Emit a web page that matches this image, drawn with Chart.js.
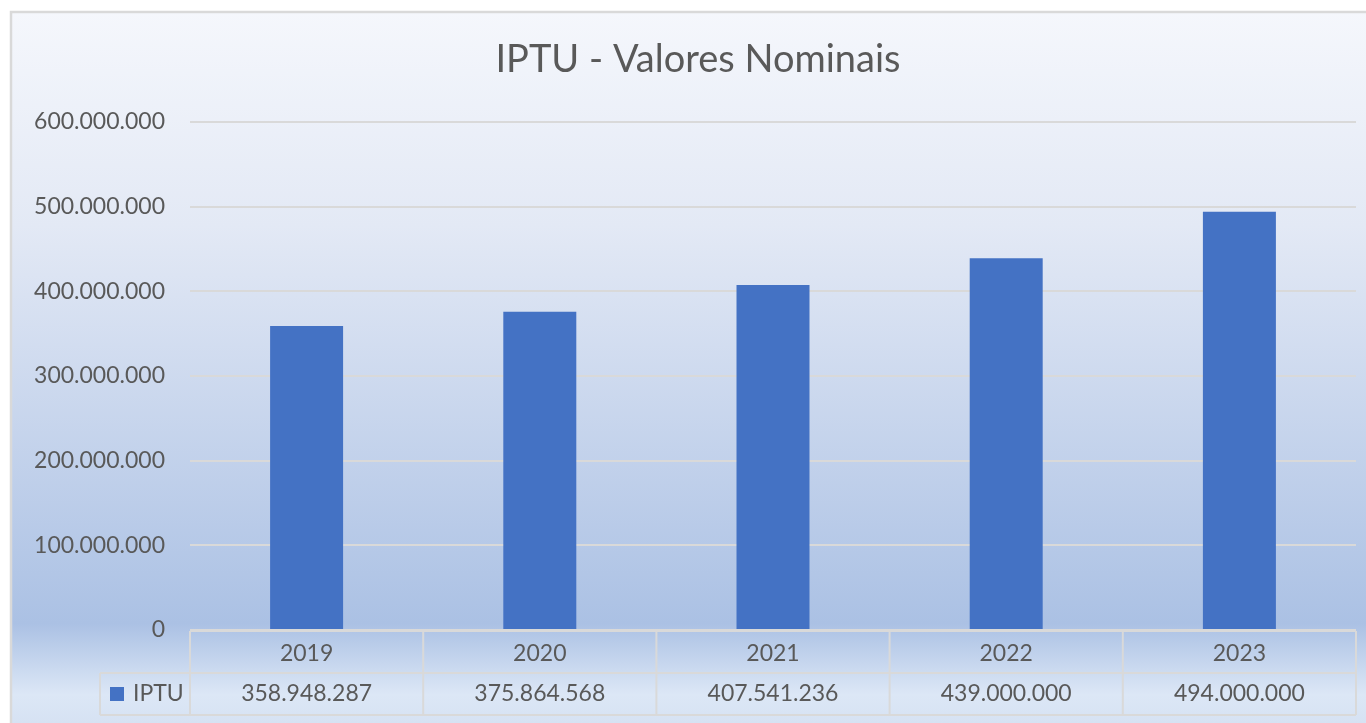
<!DOCTYPE html>
<html>
<head>
<meta charset="utf-8">
<title>IPTU - Valores Nominais</title>
<script src="https://cdn.jsdelivr.net/npm/chart.js@4"></script>
<style>
  html, body { margin: 0; padding: 0; background: #fff; overflow: hidden; }
  #wrap { width: 1366px; height: 723px; position: relative; }
</style>
</head>
<body>
<div id="wrap"><canvas id="chart"></canvas></div>
<script>
// data
const years = ['2019', '2020', '2021', '2022', '2023'];
const seriesName = 'IPTU';
const iptuValues = [358948287, 375864568, 407541236, 439000000, 494000000];
const yMax = 600000000;
const yStep = 100000000;

const textColor = '#595959';
const lineColor = '#d9d9d9';
const barColor = '#4472c4';
const fontFamily = 'Lato, "Open Sans", sans-serif';

// 358948287 -> 358.948.287
function fmt(v) {
  return String(Math.round(v)).replace(/\B(?=(\d{3})+(?!\d))/g, '.');
}

// frame + gradient fill like the Excel chart area
const backgroundPlugin = {
  id: 'bg',
  // the original chart is cropped on the right, so its title sits right of our canvas centre
  afterLayout(chart) {
    if (chart.titleBlock) {
      chart.titleBlock.left += 20;
      chart.titleBlock.right += 20;
    }
  },
  beforeDraw(chart) {
    const ctx = chart.ctx;
    const w = chart.width, h = chart.height;
    ctx.save();
    ctx.fillStyle = '#ffffff';
    ctx.fillRect(0, 0, w, h);
    const g = ctx.createLinearGradient(0, 12, 0, h);
    g.addColorStop(0, '#f5f7fc');
    g.addColorStop(0.3, '#e3e9f5');
    g.addColorStop(0.86, '#abc1e4');
    g.addColorStop(0.96, '#dce7f6');
    g.addColorStop(1, '#d6e2f3');
    ctx.fillStyle = g;
    ctx.fillRect(11, 12, w - 11, h - 12);
    ctx.strokeStyle = lineColor;
    ctx.lineWidth = 2.5;
    ctx.strokeRect(11, 12, w + 10, h + 10);
    ctx.restore();
  }
};

// data table under the plot (years row comes from the x axis ticks)
const dataTablePlugin = {
  id: 'dataTable',
  afterDraw(chart) {
    const ctx = chart.ctx;
    const xs = chart.scales.x;
    const area = chart.chartArea;
    const n = years.length;
    const colW = (xs.right - xs.left) / n;
    const rowH = 42;
    const top = area.bottom + 1;
    const legendLeft = 100;

    ctx.save();
    ctx.strokeStyle = lineColor;
    ctx.lineWidth = 2;
    ctx.beginPath();
    // horizontal lines
    ctx.moveTo(xs.left, top); ctx.lineTo(xs.right, top);
    ctx.moveTo(legendLeft, top + rowH); ctx.lineTo(xs.right, top + rowH);
    ctx.moveTo(legendLeft, top + 2 * rowH); ctx.lineTo(xs.right, top + 2 * rowH);
    // vertical lines
    for (let i = 0; i <= n; i++) {
      const x = xs.left + i * colW;
      ctx.moveTo(x, top); ctx.lineTo(x, top + 2 * rowH);
    }
    ctx.moveTo(legendLeft, top + rowH); ctx.lineTo(legendLeft, top + 2 * rowH);
    ctx.stroke();

    // values row
    const midY = top + rowH * 1.5;
    ctx.font = '23px ' + fontFamily;
    ctx.fillStyle = textColor;
    ctx.textAlign = 'center';
    ctx.textBaseline = 'middle';
    iptuValues.forEach((v, i) => {
      ctx.fillText(fmt(v), xs.getPixelForValue(i), midY);
    });

    // legend key
    ctx.fillStyle = barColor;
    ctx.fillRect(110, midY - 7, 14, 14);
    ctx.fillStyle = textColor;
    ctx.textAlign = 'left';
    ctx.fillText(seriesName, 133, midY);
    ctx.restore();
  }
};

new Chart(document.getElementById('chart'), {
  type: 'bar',
  data: {
    labels: years,
    datasets: [{
      label: seriesName,
      data: iptuValues,
      backgroundColor: barColor,
      categoryPercentage: 1,
      barPercentage: 0.313
    }]
  },
  options: {
    responsive: true,
    maintainAspectRatio: false,
    animation: false,
    layout: { padding: { left: 0, right: 10, top: 0, bottom: 0 } },
    plugins: {
      legend: { display: false },
      tooltip: { enabled: false },
      title: {
        display: true,
        text: 'IPTU - Valores Nominais',
        color: textColor,
        font: { family: fontFamily, size: 38, weight: 'normal' },
        padding: { top: 37, bottom: 39.4 }
      }
    },
    scales: {
      x: {
        grid: { display: false },
        border: { display: false },
        ticks: {
          color: textColor,
          font: { family: fontFamily, size: 23 },
          padding: 2
        },
        afterFit(scale) { scale.height = 93; }
      },
      y: {
        min: 0,
        max: yMax,
        border: { display: false },
        grid: { color: lineColor, lineWidth: 2, drawTicks: false },
        ticks: {
          stepSize: yStep,
          color: textColor,
          font: { family: fontFamily, size: 23 },
          padding: 25,
          callback: (v) => fmt(v)
        },
        afterFit(scale) { scale.width = 190; }
      }
    }
  },
  plugins: [backgroundPlugin, dataTablePlugin]
});
</script>
</body>
</html>
